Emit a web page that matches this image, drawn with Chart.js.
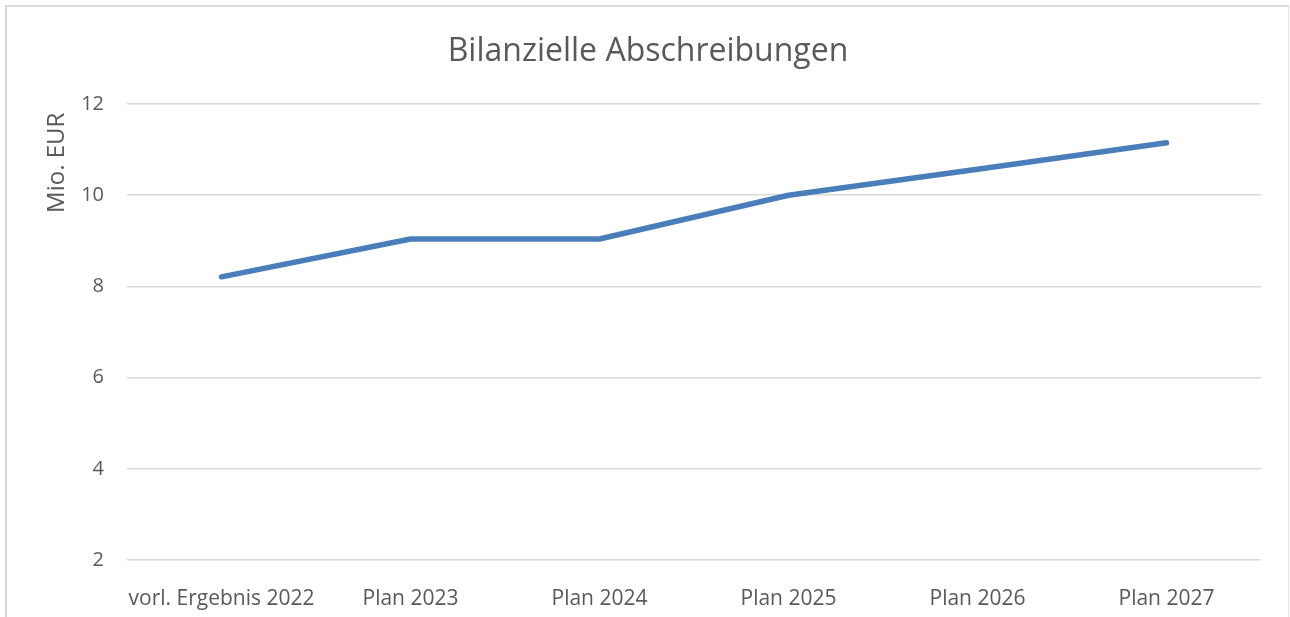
<!DOCTYPE html>
<html>
<head>
  <meta charset="UTF-8">
  <title>Bilanzielle Abschreibungen</title>
  <script src="https://cdn.jsdelivr.net/npm/chart.js"></script>
  <style>
    body {
      margin: 0;
      background: #ffffff;
      overflow: hidden;
    }
    #frame {
      position: absolute;
      left: 5px;
      top: 5px;
      width: 1281px;
      height: 700px;
      border: 2px solid #d9d9d9;
      border-right: 1px solid #e6e6e6;
    }
    #wrap {
      position: absolute;
      left: 0;
      top: 0;
      width: 1290px;
      height: 617px;
    }
  </style>
</head>
<body>
  <div id="frame"></div>
  <div id="wrap"><canvas id="chart"></canvas></div>
  <script>
    const categories = ['vorl. Ergebnis 2022', 'Plan 2023', 'Plan 2024', 'Plan 2025', 'Plan 2026', 'Plan 2027'];
    const abschreibungen = [8.21, 9.04, 9.04, 10.0, 10.57, 11.15];
    const yTicks = [2, 4, 6, 8, 10, 12];

    const textColor = '#595959';
    const fontFamily = "'Open Sans', sans-serif";

    new Chart(document.getElementById('chart'), {
      type: 'line',
      data: {
        labels: categories,
        datasets: [{
          label: 'Bilanzielle Abschreibungen',
          data: abschreibungen,
          borderColor: '#4a7ebb',
          borderWidth: 5.5,
          borderCapStyle: 'round',
          borderJoinStyle: 'round',
          pointRadius: 0,
          tension: 0,
          fill: false
        }]
      },
      options: {
        responsive: true,
        maintainAspectRatio: false,
        animation: false,
        // left/right padding keeps the title centred on the frame
        layout: { padding: { left: 35, right: 29, top: 0, bottom: 0 } },
        plugins: {
          legend: { display: false },
          tooltip: { enabled: false },
          title: {
            display: true,
            text: 'Bilanzielle Abschreibungen',
            color: textColor,
            font: { family: fontFamily, size: 32, weight: 'normal' },
            padding: { top: 33, bottom: 32.6 }
          }
        },
        scales: {
          x: {
            offset: true,
            grid: { display: false },
            border: { display: false },
            ticks: {
              color: textColor,
              font: { family: fontFamily, size: 21 },
              padding: 18,
              maxRotation: 0,
              autoSkip: false
            },
            afterFit: (scale) => { scale.height = 57; }
          },
          y: {
            min: 2,
            max: 12,
            afterBuildTicks: (scale) => { scale.ticks = yTicks.map(v => ({ value: v })); },
            grid: { color: '#d9d9d9', lineWidth: 1.5, drawTicks: false },
            border: { display: false },
            ticks: {
              color: textColor,
              font: { family: fontFamily, size: 20 },
              padding: 23
            },
            title: {
              display: true,
              text: 'Mio. EUR \u200A',
              align: 'end',
              color: textColor,
              font: { family: fontFamily, size: 24 },
              padding: { top: 8, bottom: 0 }
            },
            afterFit: (scale) => { scale.width = 92; }
          }
        }
      }
    });
  </script>
</body>
</html>
